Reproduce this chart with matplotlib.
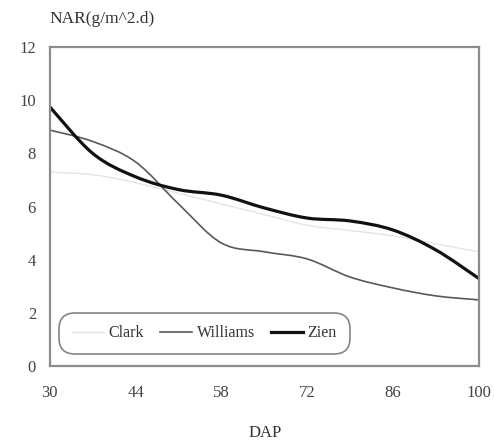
import matplotlib
matplotlib.use("Agg")
import matplotlib.pyplot as plt
from matplotlib.path import Path
from matplotlib.patches import PathPatch
from matplotlib.lines import Line2D

plt.rcParams['font.family'] = ['Liberation Serif', 'DejaVu Serif']

# NAR readings every 7 days after planting
dap = [30, 37, 44, 51, 58, 65, 72, 79, 86, 93, 100]
clark = [7.3, 7.2, 6.9, 6.5, 6.1, 5.7, 5.3, 5.1, 4.9, 4.6, 4.3]
williams = [8.88, 8.45, 7.68, 6.1, 4.63, 4.3, 4.03, 3.35, 2.94, 2.64, 2.49]
zien = [9.75, 8.0, 7.12, 6.64, 6.43, 5.95, 5.57, 5.46, 5.12, 4.37, 3.3]

x_ticks = [30, 44, 58, 72, 86, 100]
y_ticks = [0, 2, 4, 6, 8, 10, 12]


# Smoothed line through the points (cubic Bezier segments, like a spreadsheet "smoothed line")
def smooth_path(xs, ys):
    pts = list(zip(xs, ys))
    n = len(pts)
    verts = [pts[0]]
    codes = [Path.MOVETO]
    for i in range(n - 1):
        p0 = pts[i - 1] if i > 0 else pts[i]
        p1 = pts[i]
        p2 = pts[i + 1]
        p3 = pts[i + 2] if i + 2 < n else pts[i + 1]
        c1 = (p1[0] + (p2[0] - p0[0]) / 6, p1[1] + (p2[1] - p0[1]) / 6)
        c2 = (p2[0] - (p3[0] - p1[0]) / 6, p2[1] - (p3[1] - p1[1]) / 6)
        verts += [c1, c2, p2]
        codes += [Path.CURVE4, Path.CURVE4, Path.CURVE4]
    return Path(verts, codes)


fig = plt.figure(figsize=(4.94, 4.41), dpi=100)
ax = fig.add_axes([0.101, 0.170, 0.868, 0.723])

styles = [
    ('Clark', clark, '#e4e4e4', 1.0),
    ('Williams', williams, '#595959', 1.2),
    ('Zien', zien, '#111111', 2.3),
]
handles = []
for name, vals, color, lw in styles:
    ax.add_patch(PathPatch(smooth_path(dap, vals), fill=False, edgecolor=color, lw=lw,
                           capstyle='round', joinstyle='round'))
    handles.append(Line2D([], [], color=color, lw=lw, label=name))

ax.set_xlim(30, 100)
ax.set_ylim(0, 12)
ax.set_xticks(x_ticks)
ax.set_yticks(y_ticks)
ax.tick_params(length=0, labelsize=12, labelcolor='#444444', pad=10)
ax.tick_params(axis='x', pad=14)
for side in ax.spines.values():
    side.set_color('#8c8c8c')
    side.set_linewidth(1.6)

fig.text(0.101, 0.957, 'NAR(g/m^2.d)', fontsize=12.5, color='#333333', ha='left', va='center')
fig.text(0.536, 0.018, 'DAP', fontsize=12, color='#333333', ha='center', va='center')

leg = ax.legend(handles=handles, ncol=3, loc='lower left', bbox_to_anchor=(0.01, 0.022),
                fontsize=11.5, frameon=True, fancybox=True, handlelength=2.0, handletextpad=0.3,
                columnspacing=1.0, borderpad=0.6)
leg.get_frame().set_edgecolor('#666666')
leg.get_frame().set_linewidth(1.2)
leg.get_frame().set_boxstyle('round', pad=0.2, rounding_size=1.0)
for t in leg.get_texts():
    t.set_color('#333333')

fig.savefig('out.png', dpi=100)
